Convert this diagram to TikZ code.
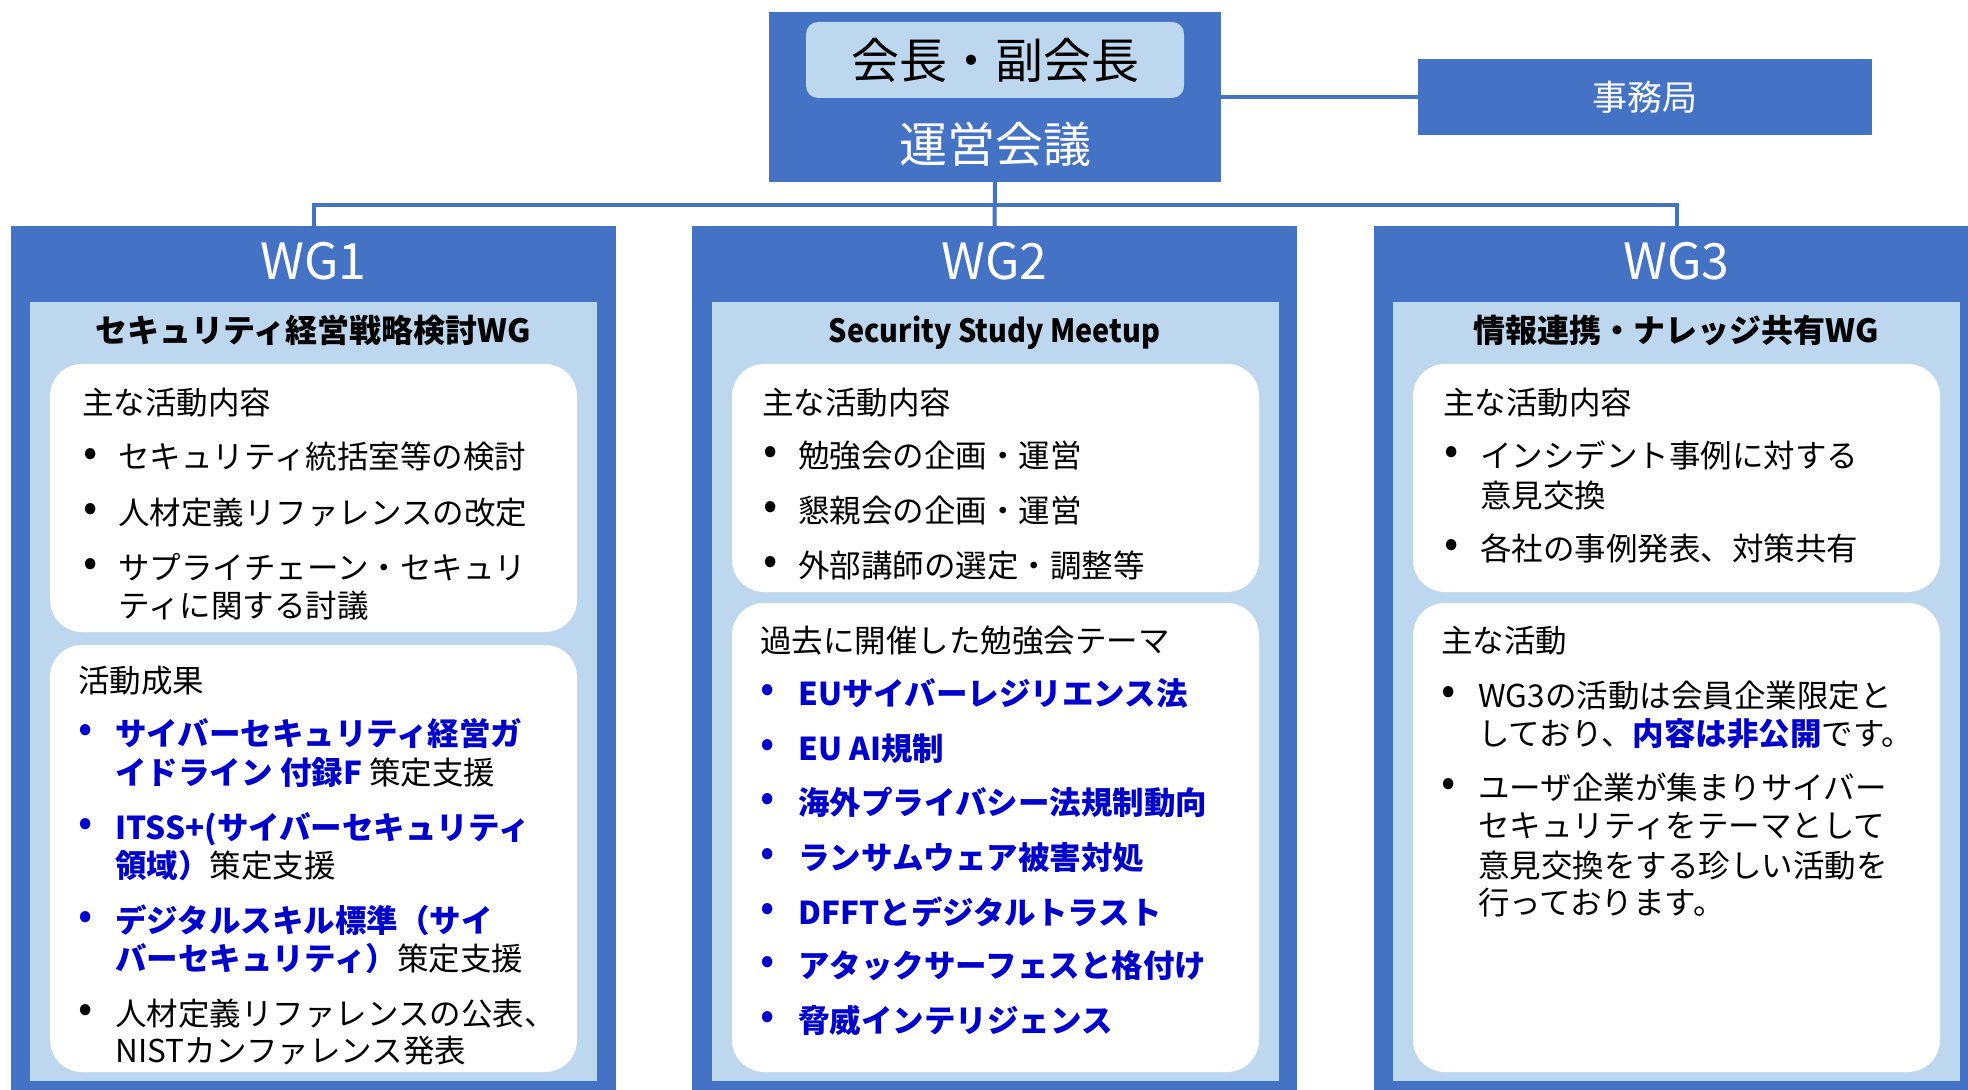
\documentclass[tikz,border=0pt]{standalone}
\usepackage{fontspec}
\setmainfont{Noto Sans CJK JP}
\definecolor{dblue}{HTML}{4472C4}
\definecolor{lblue}{HTML}{BDD7EE}
\definecolor{tblue}{HTML}{0000CC}
\newcommand\bluebf[1]{{\bfseries\color{tblue}#1}}
\tikzset{
  dbox/.style={fill=dblue, draw=none, inner sep=0pt, outer sep=0pt},
  conn/.style={draw=dblue, line width=2pt},
  body/.style={anchor=base west, inner sep=0pt, yshift=-6pt, text=black,
               font=\fontsize{15.75pt}{19pt}\selectfont},
  bdot/.style={anchor=center, inner sep=0pt, font=\fontsize{21pt}{24pt}\selectfont},
  wgtitle/.style={anchor=base, inner sep=0pt, yshift=-9pt, text=white,
               font=\fontsize{25pt}{30pt}\selectfont},
  subhead/.style={anchor=base, inner sep=0pt, yshift=-6.2pt, text=black,
               font=\fontsize{16pt}{19pt}\selectfont\bfseries},
  panel/.style={fill=lblue, draw=none},
  card/.style={fill=white, draw=none, rounded corners=16pt},
}
\newcommand\bitem[6][black]{%
  \node[bdot, text=#1] (#2-b) at (#3,#5) {•};
  \node[body] (#2) at (#4,#5) {#6};}
\begin{document}
\begin{tikzpicture}[x=0.5pt, y=-0.5pt]
\useasboundingbox (0,0) rectangle (1968,1090);
\clip (0,0) rectangle (1968,1090);

% top boxes
\node[dbox, minimum width=226pt, minimum height=85pt] (top) at (995,97) {};
\node[fill=lblue, rounded corners=6pt, minimum width=189pt, minimum height=38pt,
      inner sep=0pt, font=\fontsize{24pt}{28pt}\selectfont] (chair) at (995,60) {会長・副会長};
\node[anchor=base, inner sep=0pt, yshift=-9pt, text=white,
      font=\fontsize{24pt}{28pt}\selectfont] (unei) at (995,145) {運営会議};
\node[dbox, minimum width=227pt, minimum height=38pt, text=white,
      font=\fontsize{17.5pt}{21pt}\selectfont] (jim) at (1644.5,97) {事務局};

% WG boxes
\node[dbox, minimum width=302.5pt, minimum height=432pt] (wg1) at (313.5,658) {};
\node[dbox, minimum width=302.5pt, minimum height=432pt] (wg2) at (994.5,658) {};
\node[dbox, minimum width=302.5pt, minimum height=432pt] (wg3) at (1676.5,658) {};

% connectors
\coordinate (bar) at (995,205);
\draw[conn] (top.south) -- (wg2.north);
\draw[conn] (wg1.north) |- (bar) -| (wg3.north);
\draw[conn] (top.east) -- (jim.west);

% panels
\fill[panel] (30,302) rectangle (597,1081);
\fill[panel] (712,302) rectangle (1279,1081);
\fill[panel] (1393,302) rectangle (1960,1081);
\fill[card] (50,364) rectangle (577,632);
\fill[card] (50,645) rectangle (577,1072);
\fill[card] (732,364) rectangle (1259,592);
\fill[card] (732,603) rectangle (1259,1072);
\fill[card] (1413,364) rectangle (1940,592);
\fill[card] (1413,603) rectangle (1940,1072);

% titles
\node[wgtitle] (wg1t) at (313.5,262) {WG1};
\node[wgtitle] (wg2t) at (994.5,262) {WG2};
\node[wgtitle] (wg3t) at (1676.5,262) {WG3};
\node[subhead] (wg1s) at (313.5,330) {セキュリティ経営戦略検討WG};
\node[subhead] (wg2s) at (994.5,330) {\scalebox{0.9}[1]{Security Study Meetup}};
\node[subhead] (wg3s) at (1676.5,330) {情報連携・ナレッジ共有WG};

% WG1 contents
\node[body] (w1h1) at (82,403) {主な活動内容};
\bitem{w1a}{91}{118}{457}{セキュリティ統括室等の検討}
\bitem{w1b}{91}{118}{512}{人材定義リファレンスの改定}
\bitem{w1c}{91}{118}{567}{サプライチェーン・セキュリ}
\node[body] (w1c2) at (118,605) {ティに関する討議};
\node[body] (w1h2) at (78,680) {活動成果};
\bitem[tblue]{w1d}{86}{115}{733}{\bluebf{サイバーセキュリティ経営ガ}}
\node[body] (w1d2) at (115,772) {\bluebf{イドライン 付録F} 策定支援};
\bitem[tblue]{w1e}{86}{115}{827}{\bluebf{ITSS+(サイバーセキュリティ}}
\node[body] (w1e2) at (115,865) {\bluebf{領域）}策定支援};
\bitem[tblue]{w1f}{86}{115}{920}{\bluebf{デジタルスキル標準（サイ}}
\node[body] (w1f2) at (115,958) {\bluebf{バーセキュリティ）}策定支援};
\bitem{w1g}{86}{115}{1013}{人材定義リファレンスの公表、}
\node[body] (w1g2) at (115,1050) {NISTカンファレンス発表};

% WG2 contents
\node[body] (w2h1) at (762,403) {主な活動内容};
\bitem{w2a}{771}{798}{455}{勉強会の企画・運営}
\bitem{w2b}{771}{798}{510}{懇親会の企画・運営}
\bitem{w2c}{771}{798}{565}{外部講師の選定・調整等}
\node[body] (w2h2) at (760,640) {過去に開催した勉強会テーマ};
\bitem[tblue]{w2d}{768}{798}{693}{\bluebf{EUサイバーレジリエンス法}}
\bitem[tblue]{w2e}{768}{798}{748}{\bluebf{EU AI規制}}
\bitem[tblue]{w2f}{768}{798}{802}{\bluebf{海外プライバシー法規制動向}}
\bitem[tblue]{w2g}{768}{798}{857}{\bluebf{ランサムウェア被害対処}}
\bitem[tblue]{w2h}{768}{798}{912}{\bluebf{DFFTとデジタルトラスト}}
\bitem[tblue]{w2i}{768}{798}{965}{\bluebf{アタックサーフェスと格付け}}
\bitem[tblue]{w2j}{768}{798}{1020}{\bluebf{脅威インテリジェンス}}

% WG3 contents
\node[body] (w3h1) at (1443,403) {主な活動内容};
\bitem{w3a}{1452}{1480}{455}{インシデント事例に対する}
\node[body] (w3a2) at (1480,495) {意見交換};
\bitem{w3b}{1452}{1480}{548}{各社の事例発表、対策共有}
\node[body] (w3h2) at (1441,640) {主な活動};
\bitem{w3c}{1449}{1478}{695}{WG3の活動は会員企業限定と}
\node[body] (w3c2) at (1478,733) {しており、\bluebf{内容は非公開}です。};
\bitem{w3d}{1449}{1478}{787}{ユーザ企業が集まりサイバー}
\node[body] (w3d2) at (1478,825) {セキュリティをテーマとして};
\node[body] (w3d3) at (1478,865) {意見交換をする珍しい活動を};
\node[body] (w3d4) at (1478,902) {行っております。};
\end{tikzpicture}
\end{document}
